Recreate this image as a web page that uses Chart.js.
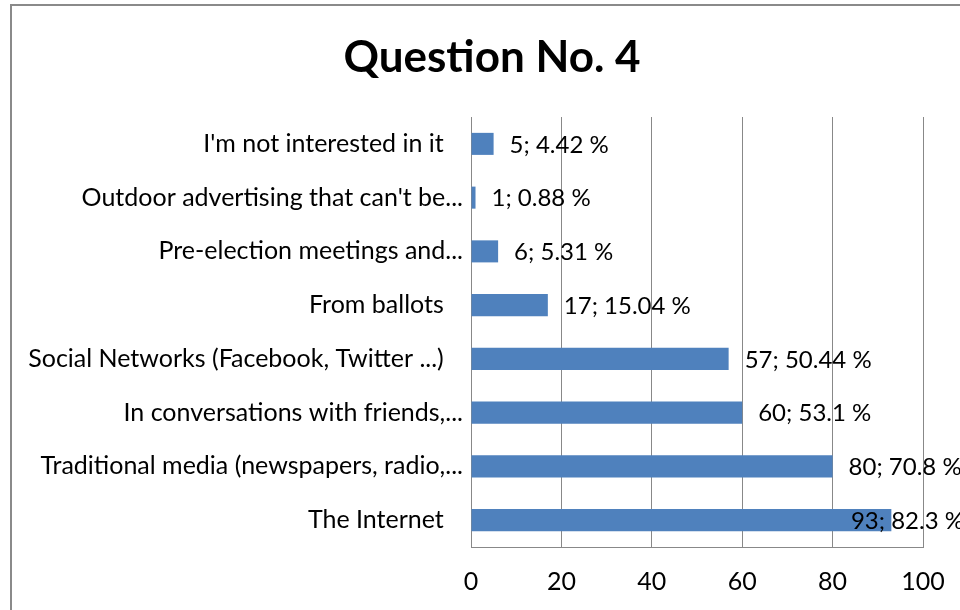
<!DOCTYPE html>
<html>
<head>
<meta charset="utf-8">
<script src="https://cdn.jsdelivr.net/npm/chart.js@4.4.1/dist/chart.umd.min.js"></script>
<style>
    html, body { margin: 0; padding: 0; background: #fff; overflow: hidden; }
    #wrap { position: relative; width: 960px; height: 610px; }
    #frame { position: absolute; left: 10px; top: 4px; width: 980px; height: 640px; border: 2px solid #8a8a8a; }
    #chart { position: absolute; left: 0; top: 0; }
</style>
</head>
<body>
<div id="wrap">
    <div id="frame"></div>
    <canvas id="chart" width="960" height="610"></canvas>
</div>
<script>
// answers, top to bottom
var answers = [
    "I'm not interested in it",
    "Outdoor advertising that can't be...",
    "Pre-election meetings and...",
    "From ballots",
    "Social Networks (Facebook, Twitter ...)",
    "In conversations with friends,...",
    "Traditional media (newspapers, radio,...",
    "The Internet"
];
var counts = [5, 1, 6, 17, 57, 60, 80, 93];
var percents = ['4.42', '0.88', '5.31', '15.04', '50.44', '53.1', '70.8', '82.3'];
var xTicks = [0, 20, 40, 60, 80, 100];

var titleText = 'Question No. 4';
var gridColor = '#888888';

// title sits over the middle of the frame, not the plot
var chartTitle = {
    id: 'chartTitle',
    afterDraw: function(chart) {
        var ctx = chart.ctx;
        ctx.save();
        ctx.font = 'bold 44px Lato';
        ctx.fillStyle = '#000';
        ctx.textAlign = 'center';
        ctx.textBaseline = 'middle';
        ctx.fillText(titleText, 492, 58);
        ctx.restore();
    }
};

// "count; percent %" next to each bar, kept inside the chart frame
var valueLabels = {
    id: 'valueLabels',
    afterDatasetsDraw: function(chart) {
        var ctx = chart.ctx;
        var meta = chart.getDatasetMeta(0);
        ctx.save();
        ctx.font = '24px Lato';
        ctx.fillStyle = '#000';
        ctx.textBaseline = 'middle';
        ctx.textAlign = 'left';
        meta.data.forEach(function(bar, i) {
            var txt = counts[i] + '; ' + percents[i] + ' %';
            var w = ctx.measureText(txt).width;
            var x = bar.x + 16;
            if (x + w > 964) x = 964 - w;
            ctx.fillText(txt, x, bar.y + 1);
        });
        ctx.restore();
    }
};

var ctx = document.getElementById('chart').getContext('2d');
var myChart = new Chart(ctx, {
    type: 'bar',
    data: {
        labels: answers,
        datasets: [{
            data: counts,
            backgroundColor: '#4f81bd',
            borderWidth: 0,
            barPercentage: 0.41,
            categoryPercentage: 1
        }]
    },
    options: {
        indexAxis: 'y',
        responsive: false,
        animation: false,
        layout: { padding: { left: 0, right: 37, top: 117, bottom: 0 } },
        plugins: {
            legend: { display: false },
            tooltip: { enabled: false },
            title: { display: false }
        },
        scales: {
            x: {
                min: 0,
                max: 100,
                afterBuildTicks: function(scale) {
                    scale.ticks = xTicks.map(function(v) { return { value: v }; });
                },
                afterFit: function(scale) {
                    scale.height = 63;
                    scale.paddingLeft = 0;
                    scale.paddingRight = 0;
                },
                grid: { color: gridColor, lineWidth: 1, drawTicks: false },
                border: { display: true, color: gridColor, width: 1 },
                ticks: { color: '#000', font: { family: 'Lato', size: 25 }, padding: 20 }
            },
            y: {
                afterFit: function(scale) { scale.width = 471; },
                grid: { display: false, drawTicks: false },
                border: { display: true, color: gridColor, width: 1 },
                ticks: {
                    color: '#000',
                    font: { family: 'Lato', size: 25 },
                    padding: 8,
                    autoSkip: false,
                    callback: function(v, i) {
                        var l = answers[i];
                        return l.endsWith('...') ? l : l + '   ';
                    }
                }
            }
        }
    },
    plugins: [valueLabels, chartTitle]
});
</script>
</body>
</html>
